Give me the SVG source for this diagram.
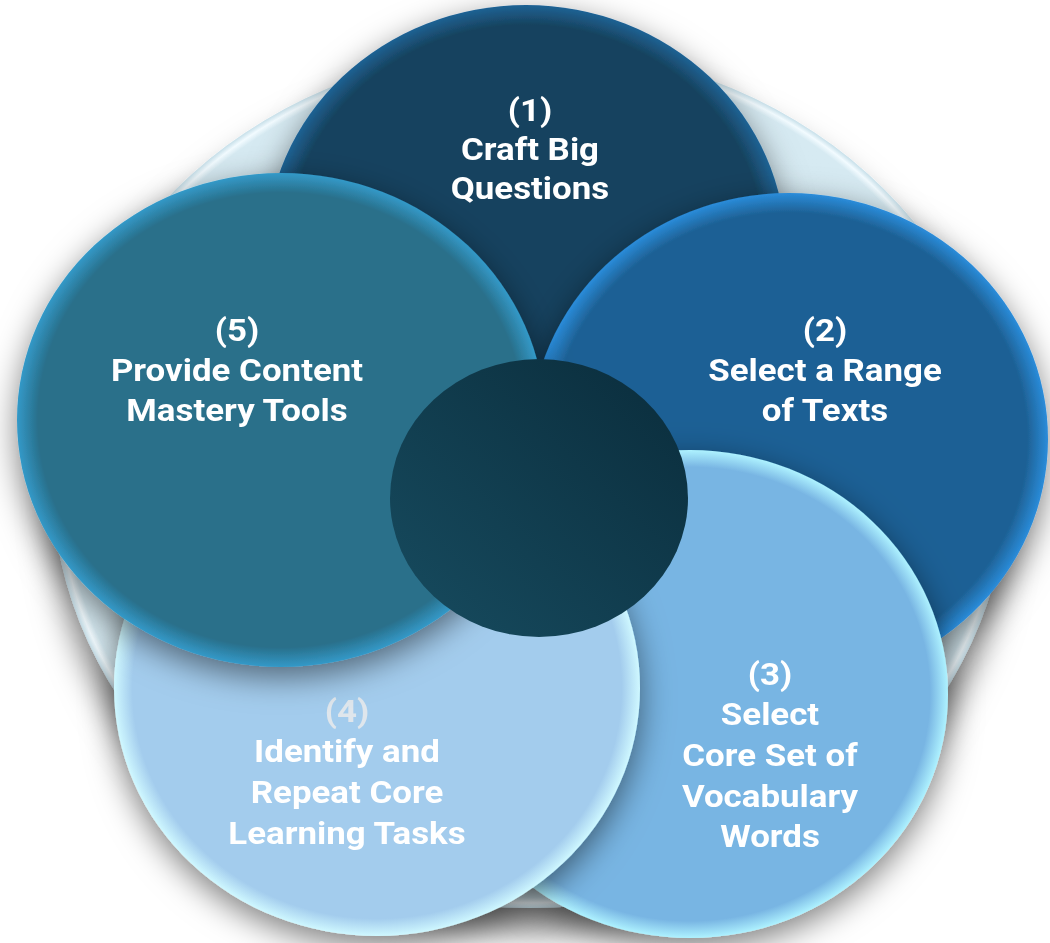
<svg xmlns="http://www.w3.org/2000/svg" width="1050" height="943" viewBox="0 0 1050 943">
  <defs>
    <style>
      .lbl { font-family: Roboto, "Liberation Sans", Arial, sans-serif; font-weight: 700; font-size: 32px; fill: #ffffff; text-anchor: middle; }
      .num4 { fill: #dfe6ec; }
    </style>
    <!-- soft shadow cast by every disc -->
    <filter id="shadow" x="-25%" y="-25%" width="150%" height="160%">
      <feDropShadow dx="0" dy="10" stdDeviation="16" flood-color="#000" flood-opacity="0.5"/>
    </filter>
    <filter id="shadowBig" x="-25%" y="-25%" width="150%" height="160%">
      <feDropShadow dx="0" dy="24" stdDeviation="16" flood-color="#000" flood-opacity="0.5"/>
    </filter>
    <!-- disc fills: flat body with a lit rim -->
    <radialGradient id="g1" cx="0.5" cy="0.5" r="0.5">
      <stop offset="0" stop-color="#17435f"/>
      <stop offset="0.92" stop-color="#17435f"/>
      <stop offset="1" stop-color="#1f6294"/>
    </radialGradient>
    <radialGradient id="g2" cx="0.5" cy="0.5" r="0.5">
      <stop offset="0" stop-color="#1e6195"/>
      <stop offset="0.92" stop-color="#1e6195"/>
      <stop offset="1" stop-color="#2a8cda"/>
    </radialGradient>
    <radialGradient id="g3" cx="0.5" cy="0.5" r="0.5">
      <stop offset="0" stop-color="#78b5e3"/>
      <stop offset="0.93" stop-color="#78b5e3"/>
      <stop offset="1" stop-color="#aef2ff"/>
    </radialGradient>
    <radialGradient id="g4" cx="0.5" cy="0.5" r="0.5">
      <stop offset="0" stop-color="#a3cced"/>
      <stop offset="0.93" stop-color="#a3cced"/>
      <stop offset="1" stop-color="#cff8ff"/>
    </radialGradient>
    <radialGradient id="g5" cx="0.5" cy="0.5" r="0.5">
      <stop offset="0" stop-color="#296f8a"/>
      <stop offset="0.92" stop-color="#296f8a"/>
      <stop offset="1" stop-color="#3399c8"/>
    </radialGradient>
    <radialGradient id="gbg" cx="0.5" cy="0.5" r="0.5">
      <stop offset="0" stop-color="#d4e8f0"/>
      <stop offset="0.975" stop-color="#d6eaf2"/>
      <stop offset="0.988" stop-color="#f2fbff"/>
      <stop offset="1" stop-color="#c6dfe9"/>
    </radialGradient>
    <linearGradient id="gc" x1="0" y1="1" x2="1" y2="0">
      <stop offset="0" stop-color="#174c60"/>
      <stop offset="1" stop-color="#0a2c3b"/>
    </linearGradient>
  </defs>

  <rect width="1050" height="943" fill="#ffffff"/>

  <!-- backdrop disc -->
  <g id="backdrop" filter="url(#shadowBig)">
    <ellipse cx="530" cy="478" rx="478" ry="430" fill="url(#gbg)"/>
  </g>

  <!-- (1) Craft Big Questions -->
  <g id="node1" filter="url(#shadow)">
    <ellipse cx="526" cy="251" rx="260" ry="246" fill="url(#g1)"/>
    <g transform="translate(530 0) scale(1.09 1)">
      <text class="lbl" x="0" y="121">(1)</text>
      <text class="lbl" x="0" y="160">Craft Big</text>
      <text class="lbl" x="0" y="199">Questions</text>
    </g>
  </g>

  <!-- (2) Select a Range of Texts -->
  <g id="node2" filter="url(#shadow)">
    <ellipse cx="789" cy="439" rx="259" ry="246" fill="url(#g2)"/>
    <g transform="translate(825 0) scale(1.09 1)">
      <text class="lbl" x="0" y="341">(2)</text>
      <text class="lbl" x="0" y="381">Select a Range</text>
      <text class="lbl" x="0" y="421">of Texts</text>
    </g>
  </g>

  <!-- (3) Select Core Set of Vocabulary Words -->
  <g id="node3" filter="url(#shadow)">
    <ellipse cx="690" cy="694" rx="258" ry="244" fill="url(#g3)"/>
    <g transform="translate(770 0) scale(1.09 1)">
      <text class="lbl" x="0" y="685">(3)</text>
      <text class="lbl" x="0" y="725">Select</text>
      <text class="lbl" x="0" y="766">Core Set of</text>
      <text class="lbl" x="0" y="807">Vocabulary</text>
      <text class="lbl" x="0" y="847">Words</text>
    </g>
  </g>

  <!-- (4) Identify and Repeat Core Learning Tasks -->
  <g id="node4" filter="url(#shadow)">
    <ellipse cx="377" cy="688" rx="263" ry="248" fill="url(#g4)"/>
    <g transform="translate(347 0) scale(1.09 1)">
      <text class="lbl num4" x="0" y="722">(4)</text>
      <text class="lbl" x="0" y="762">Identify and</text>
      <text class="lbl" x="0" y="803">Repeat Core</text>
      <text class="lbl" x="0" y="844">Learning Tasks</text>
    </g>
  </g>

  <!-- (5) Provide Content Mastery Tools -->
  <g id="node5" filter="url(#shadow)">
    <ellipse cx="281" cy="420" rx="264" ry="247" fill="url(#g5)"/>
    <g transform="translate(237 0) scale(1.09 1)">
      <text class="lbl" x="0" y="341">(5)</text>
      <text class="lbl" x="0" y="381">Provide Content</text>
      <text class="lbl" x="0" y="421">Mastery Tools</text>
    </g>
  </g>

  <!-- hub -->
  <g id="hub">
    <ellipse cx="539" cy="498" rx="149" ry="139" fill="url(#gc)"/>
  </g>

  <g id="connectors"/>
</svg>
